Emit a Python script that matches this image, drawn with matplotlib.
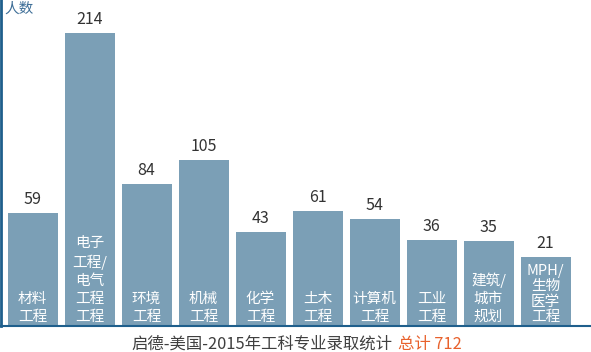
import matplotlib
matplotlib.use("Agg")
import matplotlib.pyplot as plt

plt.rcParams['font.family'] = ['Noto Sans CJK SC', 'DejaVu Sans']

categories = ["材料\n工程", "电子\n工程/\n电气\n工程\n工程", "环境\n工程", "机械\n工程", "化学\n工程",
              "土木\n工程", "计算机\n工程", "工业\n工程", "建筑/\n城市\n规划", "MPH/\n生物\n医学\n工程"]
values = [59, 214, 84, 105, 43, 61, 54, 36, 35, 21]
title_main = "启德-美国-2015年工科专业录取统计"
title_total = "总计 712"
ylabel = "人数"

# line spacing of the white in-bar labels (the last one is compressed in the reference)
label_spacing = [1.36, 1.36, 1.36, 1.36, 1.36, 1.36, 1.36, 1.36, 1.36, 1.12]

W, H = 591, 352
fig = plt.figure(figsize=(W / 100, H / 100), dpi=100)
base_px = 326
ax = fig.add_axes([1.5 / W, (H - base_px) / H, (W - 1.5) / W, base_px / H])

bar_color = "#7b9fb6"
spine_color = "#1f5f8c"

# the reference draws bars on an offset baseline so short bars fit their labels
ymin = -38.4
px_per_unit = 1.16
ymax = ymin + base_px / px_per_unit

x = list(range(len(values)))
ax.bar(x, [v - ymin for v in values], bottom=ymin, width=0.877, color=bar_color, zorder=2)

ax.set_ylim(ymin, ymax)
ax.set_xlim(-0.544, -0.544 + (W - 1.5) / 57)

for xi, v, lab, ls in zip(x, values, categories, label_spacing):
    ax.annotate(str(v), xy=(xi, v), xytext=(0, 3.5), textcoords="offset points",
                ha="center", va="bottom", fontsize=11.5, color="#333333")
    ax.annotate(lab, xy=(xi, ymin), xytext=(0, 1.5), textcoords="offset points",
                ha="center", va="bottom", fontsize=10.5, color="white",
                multialignment="center", linespacing=ls, zorder=3)

for s in ["top", "right"]:
    ax.spines[s].set_visible(False)
ax.spines["left"].set_color(spine_color)
ax.spines["left"].set_linewidth(2)
ax.spines["bottom"].set_color(spine_color)
ax.spines["bottom"].set_linewidth(1.5)
ax.set_xticks([])
ax.set_yticks([])

fig.text(4 / W, 1 - 8.5 / H, ylabel, ha="left", va="center", fontsize=10.5, color="#3f6f98")

fig.text(131 / W, 1 - 344 / H, title_main, ha="left", va="center", fontsize=11.8, color="#3f3f3f")
fig.text(398 / W, 1 - 344 / H, title_total, ha="left", va="center", fontsize=11.8, color="#e8612c")

fig.savefig("out.png", dpi=100)
